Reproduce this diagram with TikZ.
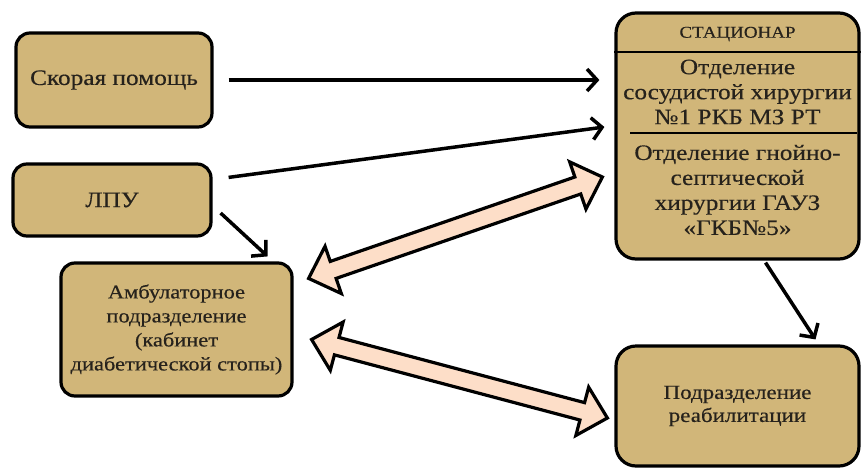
\documentclass[tikz,border=0pt]{standalone}
\usepackage{fontspec}
\setmainfont{Liberation Serif}[FakeStretch=1.15,FakeBold=0.4]
\usetikzlibrary{arrows.meta,calc}

\definecolor{boxtan}{RGB}{209,182,121}
\definecolor{peach}{RGB}{253,222,200}
\definecolor{inkgray}{RGB}{38,34,28}

\tikzset{
  unit/.style={draw=black, fill=boxtan, line width=3.2pt, rounded corners=14pt,
    align=center, text=inkgray, inner sep=0pt},
  flow/.style={line width=3.5pt, -{Straight Barb[length=10pt,width=22pt]}},
  twoway/.style={draw=black, fill=peach, line width=3.2pt, line join=miter}
}

% fat two-way arrow between two named points: head 26pt long, 50pt wide, shaft 18pt
\newcommand\fatarrow[2]{%
  \draw[twoway] let \p1=($(#2)-(#1)$), \n1={atan2(\y1,\x1)}, \n2={veclen(\x1,\y1)} in
    [shift={(#1)}, rotate=\n1]
    (0pt,0pt) -- (26pt,25pt) -- (26pt,9pt) -- ({\n2-26pt},9pt) -- ({\n2-26pt},25pt)
    -- (\n2,0pt) -- ({\n2-26pt},-25pt) -- ({\n2-26pt},-9pt) -- (26pt,-9pt) -- (26pt,-25pt) -- cycle;}

\begin{document}
\begin{tikzpicture}[x=1pt,y=-1pt]
\useasboundingbox (0,0) rectangle (861,469);

% left column
\node[unit, minimum width=196pt, minimum height=94pt,
  font=\fontsize{22}{26}\selectfont] (skor) at (114,80) {Скорая помощь};
\node[unit, minimum width=198pt, minimum height=72pt,
  font=\fontsize{22}{26}\selectfont] (lpu) at (112,200) {ЛПУ};
\node[unit, minimum width=231pt, minimum height=133pt,
  font=\fontsize{19.5}{24}\selectfont] (amb) at (176.5,329.5)
  {Амбулаторное\\подразделение\\(кабинет\\диабетической стопы)};

% right column
\node[unit, rounded corners=20pt, minimum width=243pt, minimum height=246pt] (stac) at (737.5,136) {};
\draw[line width=2.8pt] (stac.west |- 0,52) -- (stac.east |- 0,52);
\draw[line width=2.8pt] (630,133) -- (857,133);
\node[text=inkgray, font=\fontsize{16.5}{18}\selectfont] (head) at (737.5,34) {СТАЦИОНАР};
\node[align=center, text=inkgray, font=\fontsize{22}{25}\selectfont] (dept1) at (737.5,92)
  {Отделение\\сосудистой хирургии\\№1 РКБ МЗ РТ};
\node[align=center, text=inkgray, font=\fontsize{22}{25}\selectfont] (dept2) at (737.5,190)
  {Отделение гнойно-\\септической\\хирургии ГАУЗ\\«ГКБ№5»};
\node[unit, rounded corners=20pt, minimum width=243pt, minimum height=120pt,
  font=\fontsize{20}{23}\selectfont] (reab) at (737.5,406) {Подразделение\\реабилитации};

% thin arrows
\draw[flow, shorten <=15pt, shorten >=15pt] (skor.east) -- (skor.east -| stac.west);
\draw[flow] ([shift={(16,15)}]lpu.north east) -- ([shift={(-10,-9)}]stac.west);
\draw[flow] ([shift={(8,13)}]lpu.east) -- ([shift={(-26,-5)}]amb.north east);
\draw[flow] ([shift={(28,2)}]stac.south) -- ([shift={(78,-5)}]reab.north);

% two-way block arrows
\coordinate (a1) at ([shift={(15,17)}]amb.north east);
\coordinate (a2) at ([shift={(-12,41)}]stac.west);
\coordinate (b1) at ([shift={(18,10)}]amb.east);
\coordinate (b2) at ([shift={(-7,12)}]reab.west);
\fatarrow{a1}{a2}
\fatarrow{b1}{b2}
\end{tikzpicture}
\end{document}
